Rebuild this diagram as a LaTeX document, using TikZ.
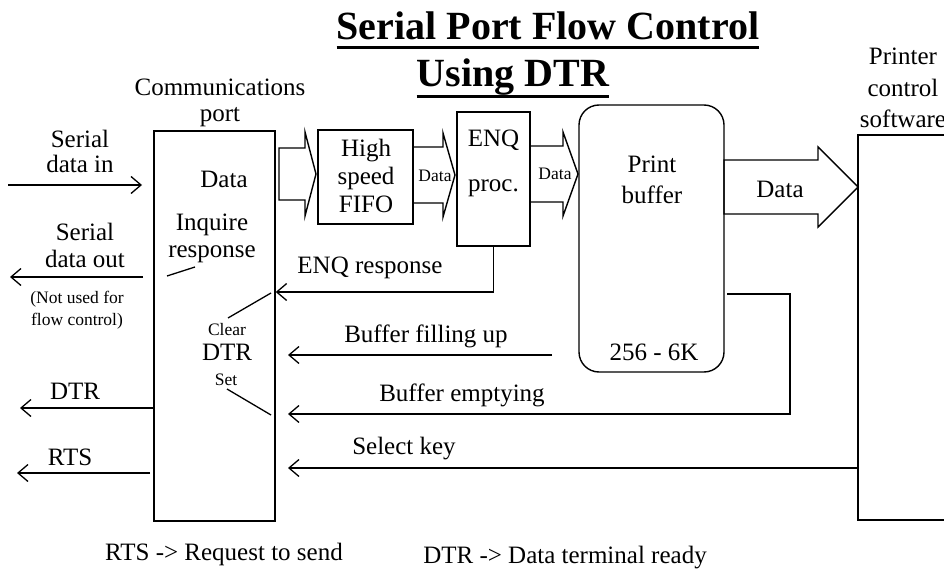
\documentclass[tikz,border=0pt]{standalone}
\usepackage{fontspec}
\setmainfont{Liberation Serif}
\usetikzlibrary{arrows.meta}
\newcommand\mainsz{\fontsize{25}{28}\selectfont}
\newcommand\smallsz{\fontsize{17.5}{22}\selectfont}
\newcommand\titlesz{\fontsize{40}{44}\selectfont\bfseries}
\newcommand\blockarrow[6]{% start x, head x, tip x, centre y, shaft half, head half
  \draw[blk] (#1,#4-#5) -- (#2,#4-#5) -- (#2,#4-#6) -- (#3,#4) -- (#2,#4+#6) -- (#2,#4+#5) -- (#1,#4+#5) -- cycle;}
\tikzset{
  box/.style={draw, line width=1.4pt, inner sep=0pt},
  lbl/.style={anchor=base, inner sep=0pt, align=center, font=\mainsz},
  slbl/.style={lbl, font=\smallsz},
  blk/.style={draw, line width=1.4pt, miter limit=20},
  wire/.style={line width=1.3pt},
  sig/.style={wire, -{Straight Barb[length=10pt, width=17pt]}},
}
\begin{document}
\begin{tikzpicture}[x=1pt, y=-1pt]
\path[use as bounding box] (0,0) rectangle (944,569);
\clip (0,0) rectangle (944,569);
% title
\node[lbl, font=\titlesz] (title1) at (548,40) {Serial Port Flow Control};
\node[lbl, font=\titlesz] (title2) at (513,87) {Using DTR};
\draw[line width=3pt] ([yshift=-8pt]title1.base west) -- ([yshift=-8pt]title1.base east);
\draw[line width=3pt] ([yshift=-10pt]title2.base west) -- ([yshift=-10pt]title2.base east);
% boxes
\node[box, minimum width=121pt, minimum height=390pt] (port) at (214.5,326) {};
\node[box, minimum width=95pt, minimum height=94pt] (fifo) at (365.5,177) {};
\node[box, minimum width=73pt, minimum height=134pt] (enq) at (493.5,179) {};
\node[box, rounded corners=20pt, minimum width=145pt, minimum height=267pt] (buf) at (651.5,238.5) {};
\node[box, minimum width=110pt, minimum height=385pt] (ctrl) at (913,327.5) {};
% box texts
\node[lbl] (portlbl) at (220,122) {Communications\\[-2pt]port};
\node[lbl] (portdata) at (224,188) {Data};
\node[lbl] (inq) at (212,257) {Inquire\\[-1pt]response};
\node[slbl] (clr) at (227,335) {Clear};
\node[lbl] (dtrin) at (227,360) {DTR};
\node[slbl] (set) at (226,385) {Set};
\node[lbl] (fifotxt) at (366,213) {High\\speed\\FIFO};
\node[lbl] (enqtxt) at (493.5,192) {ENQ\\[17pt]proc.};
\node[lbl] (buftxt) at (652,204) {Print\\[3pt]buffer};
\node[lbl] (bufsize) at (654,360) {256 - 6K};
\node[lbl] (ctrltxt) at (903,128) {Printer\\[4pt]control\\[3pt]software};
% block arrows
\blockarrow{279}{305}{316}{174}{26}{42}
\blockarrow{413}{443}{455}{175}{28}{42}
\blockarrow{530}{563}{578}{174}{28}{42}
\blockarrow{724}{818}{858}{187}{27}{40}
\node[slbl] (d1) at (435,182) {Data};
\node[slbl] (d2) at (555,180) {Data};
\node[lbl] (d3) at (780,198) {Data};
% serial lines
\node[lbl] (sin) at (80,173) {Serial\\[-3pt]data in};
\node[lbl] (sout) at (85,267) {Serial\\[-1pt]data out};
\node[slbl] (nouse) at (77,325) {(Not used for\\flow control)};
\node[lbl] (dtr) at (75,399) {DTR};
\node[lbl] (rts) at (70,465) {RTS};
\draw[sig] (8,185) -- (142,185);
\draw[sig] (143,277) -- (10,277);
\draw[sig] (port.west |- 0,408) -- (20,408);
\draw[sig] (150,473) -- (17,473);
% inside port
\draw[wire] (167,276) -- (195,267);
\draw[wire] (228,318) -- (271,293);
\draw[wire] (227,389) -- (271,415);
% feedback
\coordinate (tipx) at (288,0);
\coordinate (fillsrc) at (552,355);
\coordinate (emptysrc) at (727,294);
\draw[sig] (enq.south) |- (port.east |- 0,292);
\draw[sig] (fillsrc) -- (tipx |- fillsrc);
\draw[sig] (emptysrc) -| (790,414) -- (tipx |- 0,414);
\draw[sig] (ctrl.west |- 0,468) -- (tipx |- 0,468);
\node[lbl] (enqresp) at (370,273) {ENQ response};
\node[lbl] (filling) at (426,342) {Buffer filling up};
\node[lbl] (emptying) at (462,401) {Buffer emptying};
\node[lbl] (selkey) at (404,454) {Select key};
% legend
\node[lbl] (rtsleg) at (224,560) {RTS -> Request to send};
\node[lbl] (dtrleg) at (565,563) {DTR -> Data terminal ready};
\end{tikzpicture}
\end{document}
